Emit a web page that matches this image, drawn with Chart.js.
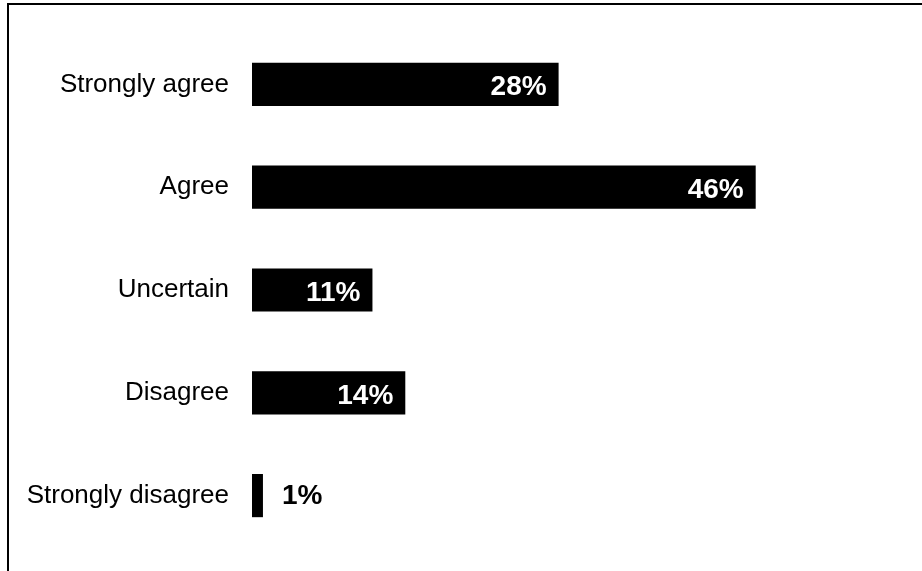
<!DOCTYPE html>
<html>
<head>
<meta charset="utf-8">
<script src="https://cdn.jsdelivr.net/npm/chart.js@4.4.1/dist/chart.umd.min.js"></script>
<style>
  html, body { margin: 0; padding: 0; background: #fff; overflow: hidden; }
  #wrap { position: relative; width: 922px; height: 571px; }
</style>
</head>
<body>
<div id="wrap"><canvas id="chart" width="922" height="571"></canvas></div>
<script>
// Chart data
const categories = ['Strongly agree', 'Agree', 'Uncertain', 'Disagree', 'Strongly disagree'];
const percentages = [28, 46, 11, 14, 1];
const xMax = 60;

// Frame line along the top and left (the box runs past the picture edges)
const framePlugin = {
  id: 'frame',
  beforeDraw(chart) {
    const ctx = chart.ctx;
    ctx.save();
    ctx.strokeStyle = '#000';
    ctx.lineWidth = 2;
    ctx.beginPath();
    ctx.moveTo(8, 600);
    ctx.lineTo(8, 4);
    ctx.lineTo(940, 4);
    ctx.stroke();
    ctx.restore();
  }
};

// Value labels: white inside the bar end, black just outside when the bar is too short
const valueLabels = {
  id: 'valueLabels',
  afterDatasetsDraw(chart) {
    const ctx = chart.ctx;
    const meta = chart.getDatasetMeta(0);
    ctx.save();
    ctx.font = 'bold 28px "Liberation Sans", Arial, sans-serif';
    ctx.textBaseline = 'alphabetic';
    meta.data.forEach((bar, i) => {
      const text = percentages[i] + '%';
      const w = ctx.measureText(text).width;
      const len = bar.x - bar.base;
      if (len > w + 20) {
        ctx.fillStyle = '#fff';
        ctx.textAlign = 'right';
        ctx.fillText(text, bar.x - 12, bar.y + 11);
      } else {
        ctx.fillStyle = '#000';
        ctx.textAlign = 'left';
        ctx.fillText(text, bar.x + 19, bar.y + 8);
      }
    });
    ctx.restore();
  }
};

const ctx = document.getElementById('chart').getContext('2d');
new Chart(ctx, {
  type: 'bar',
  data: {
    labels: categories,
    datasets: [{
      data: percentages,
      backgroundColor: '#000',
      borderWidth: 0,
      categoryPercentage: 1,
      barPercentage: 0.42
    }]
  },
  options: {
    indexAxis: 'y',
    responsive: false,
    animation: false,
    layout: { padding: { left: 10, right: 13, top: 33, bottom: 24 } },
    plugins: {
      legend: { display: false },
      tooltip: { enabled: false }
    },
    scales: {
      x: {
        display: false,
        min: 0,
        max: xMax
      },
      y: {
        grid: { display: false, drawTicks: false },
        border: { display: false },
        ticks: {
          color: '#000',
          padding: 23,
          font: { family: '"Liberation Sans", Arial, sans-serif', size: 26 }
        },
        afterFit(scale) {
          scale.width = 242;
          scale.paddingTop = 0;
          scale.paddingBottom = 0;
        }
      }
    }
  },
  plugins: [framePlugin, valueLabels]
});
</script>
</body>
</html>
